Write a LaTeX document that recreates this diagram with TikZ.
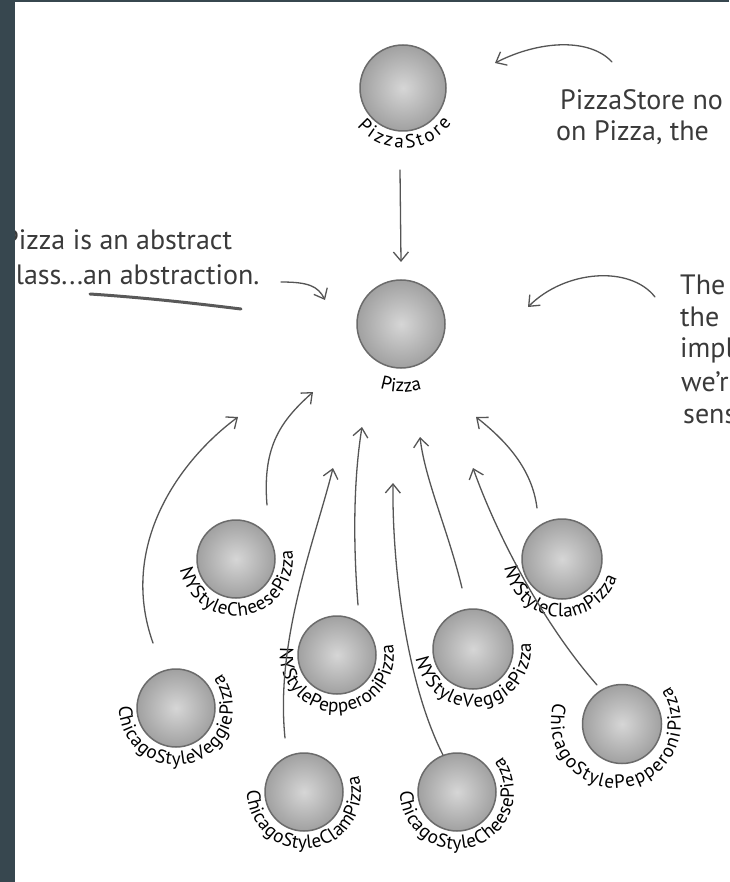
\documentclass[tikz,border=0pt]{standalone}
\usepackage{fontspec}
\newfontfamily\handfont{PT Sans}
\usetikzlibrary{arrows.meta,decorations.text,calc}

\definecolor{frame}{HTML}{37474F}
\definecolor{ink}{HTML}{555555}
\definecolor{notetext}{HTML}{3A3A3A}

\newcommand\lblfont{\handfont\fontsize{19}{19}\selectfont}
% curved class name under a ball: centre, radius, start angle, end angle, text
\newcommand\arclabel[5]{%
  \path[decorate,decoration={text along path,text align={fit to path},
        text={|\lblfont|#5}}]
    ($(#1)+(#3:#2)$) arc[start angle=#3,end angle=#4,radius=#2];}

\tikzset{
  ball/.style={circle,inner sep=0pt,outer sep=0pt,draw=black!58,line width=1.5pt,
               inner color=black!16,outer color=black!37},
  link/.style={draw=ink,line width=1.3pt,line cap=round,
               -{Straight Barb[length=9pt,width=15pt]}},
  note/.style={font=\handfont\fontsize{28}{28}\selectfont,text=notetext,
               inner sep=0pt,anchor=base west},
}

\begin{document}
\begin{tikzpicture}[x=1pt,y=-1pt]
\useasboundingbox (0,0) rectangle (729,882);
\clip (0,0) rectangle (729,882);
\fill[white] (0,0) rectangle (729,882);

% classes
\node[ball,minimum size=86pt] (store)    at (403,88)  {};
\node[ball,minimum size=88pt] (pizza)    at (401,324) {};
\node[ball,minimum size=78pt] (nycheese) at (236,559) {};
\node[ball,minimum size=78pt] (nypep)    at (337,655) {};
\node[ball,minimum size=80pt] (nyveg)    at (473,649) {};
\node[ball,minimum size=80pt] (nyclam)   at (562,559) {};
\node[ball,minimum size=78pt] (chveg)    at (176,708) {};
\node[ball,minimum size=78pt] (chclam)   at (304,792) {};
\node[ball,minimum size=78pt] (chcheese) at (457,792) {};
\node[ball,minimum size=79pt] (chpep)    at (622,724) {};
\coordinate (chpepc) at (616,723);

% class names
\arclabel{store}{60}{140}{36}{PizzaStore}
\arclabel{pizza}{68}{108}{72}{Pizza}
\arclabel{nycheese}{57}{169}{-9}{NYStyleCheesePizza}
\arclabel{nypep}{57}{188}{-11}{NYStylePepperoniPizza}
\arclabel{nyveg}{58}{171}{-6}{NYStyleVeggiePizza}
\arclabel{nyclam}{58}{172}{19}{NYStyleClamPizza}
\arclabel{chveg}{57}{182}{-37}{ChicagoStyleVeggiePizza}
\arclabel{chclam}{57}{182}{-17}{ChicagoStyleClamPizza}
\arclabel{chcheese}{57}{181}{-38}{ChicagoStyleCheesePizza}
\arclabel{chpepc}{65}{198}{-34}{ChicagoStylePepperoniPizza}

% connector ends
\coordinate (s0) at (400,170);  \coordinate (t0) at (401,262);
\coordinate (s1) at (153,643);  \coordinate (t1) at (238,417);
\coordinate (s2) at (267,505);  \coordinate (t2) at (313,392);
\coordinate (s3) at (358,605);  \coordinate (t3) at (362,427);
\coordinate (s4) at (285,738);  \coordinate (t4) at (333,468);
\coordinate (s5) at (443,755);  \coordinate (t5) at (393,483);
\coordinate (s6) at (462,588);  \coordinate (t6) at (420,437);
\coordinate (s7) at (537,508);  \coordinate (t7) at (476,417);
\coordinate (s8) at (597,685);  \coordinate (t8) at (473,468);

% dependencies
\draw[link] (s0) -- (t0);
\draw[link] (s1) .. controls (118,545) and (180,460) .. (t1);
\draw[link] (s2) .. controls (262,445) and (282,420) .. (t2);
\draw[link] (s3) .. controls (352,530) and (355,470) .. (t3);
\draw[link] (s4) .. controls (275,640) and (315,540) .. (t4);
\draw[link] (s5) .. controls (405,680) and (392,560) .. (t5);
\draw[link] (s6) .. controls (448,530) and (425,480) .. (t6);
\draw[link] (s7) .. controls (532,468) and (505,440) .. (t7);
\draw[link] (s8) .. controls (540,620) and (495,530) .. (t8);

% notes
\node[note] (n1a) at (560,110) {PizzaStore no};
\node[note] (n1b) at (556,141) {on Pizza, the};
\node[note] (n2a) at (3,250) {Pizza is an abstract};
\node[note] (n2b) at (3,284) {class...an abstraction.};
\node[note] (n3a) at (680,294) {The};
\node[note] (n3b) at (680,326) {the};
\node[note] (n3c) at (680,357) {impl};
\node[note] (n3d) at (681,391) {we’r};
\node[note] (n3e) at (683,423) {sens};

% note pointers
\coordinate (p1s) at (612,62);  \coordinate (p1t) at (495,63);
\coordinate (p2s) at (281,282); \coordinate (p2t) at (325,300);
\coordinate (p3s) at (655,297); \coordinate (p3t) at (528,307);
\draw[link] (p1s) .. controls (590,38) and (540,40) .. (p1t);
\draw[link] (p2s) .. controls (308,282) and (318,286) .. (p2t);
\draw[link] (p3s) .. controls (630,265) and (565,270) .. (p3t);

% underline stroke
\draw[black!65,line width=3pt,line cap=round] (90,294) .. controls (150,298) and (200,304) .. (241,309);

% page frame
\fill[frame] (0,0) rectangle (15,882);
\fill[frame] (0,0) rectangle (729,2.5);
\end{tikzpicture}
\end{document}
